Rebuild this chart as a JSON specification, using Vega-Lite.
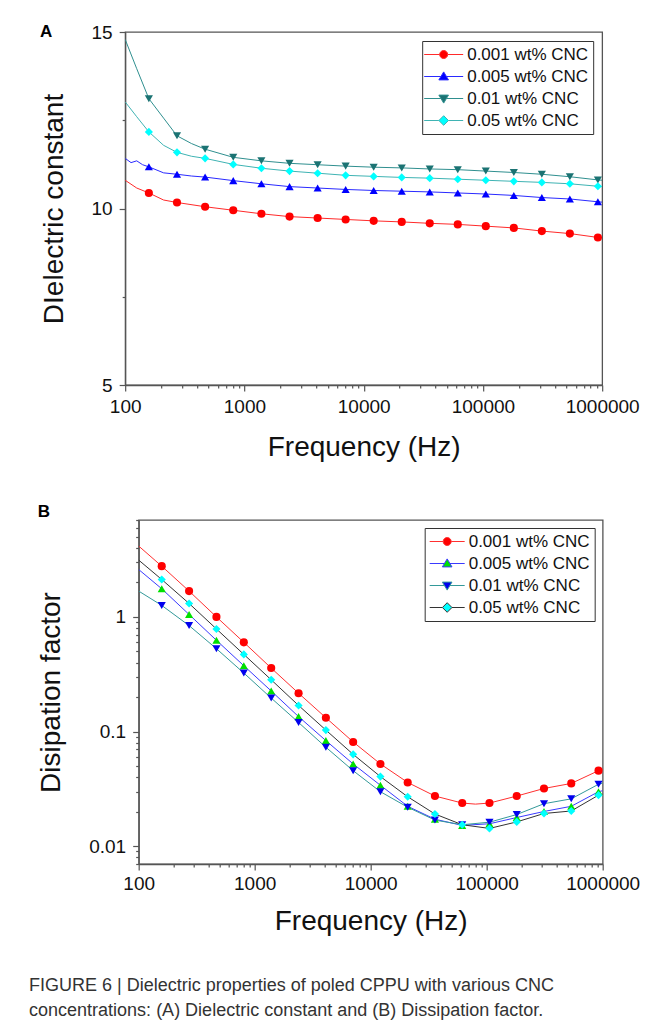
{
  "$schema": "https://vega.github.io/schema/vega-lite/v6.json",
  "background": "white",
  "padding": {"left": 29, "top": 22, "right": 5, "bottom": 5},
  "datasets": {
    "A": [
      {"f":100,"v":10.80,"s":"0.001 wt% CNC","m":0},{"f":125,"v":10.58,"s":"0.001 wt% CNC","m":0},{"f":158,"v":10.44,"s":"0.001 wt% CNC","m":1},{"f":210,"v":10.24,"s":"0.001 wt% CNC","m":0},{"f":272,"v":10.17,"s":"0.001 wt% CNC","m":1},{"f":468,"v":10.05,"s":"0.001 wt% CNC","m":1},{"f":806,"v":9.95,"s":"0.001 wt% CNC","m":1},{"f":1388,"v":9.85,"s":"0.001 wt% CNC","m":1},{"f":2390,"v":9.77,"s":"0.001 wt% CNC","m":1},{"f":4110,"v":9.73,"s":"0.001 wt% CNC","m":1},{"f":7060,"v":9.69,"s":"0.001 wt% CNC","m":1},{"f":12130,"v":9.65,"s":"0.001 wt% CNC","m":1},{"f":20850,"v":9.62,"s":"0.001 wt% CNC","m":1},{"f":35810,"v":9.58,"s":"0.001 wt% CNC","m":1},{"f":61520,"v":9.55,"s":"0.001 wt% CNC","m":1},{"f":105700,"v":9.50,"s":"0.001 wt% CNC","m":1},{"f":181600,"v":9.45,"s":"0.001 wt% CNC","m":1},{"f":311900,"v":9.36,"s":"0.001 wt% CNC","m":1},{"f":535800,"v":9.29,"s":"0.001 wt% CNC","m":1},{"f":920500,"v":9.18,"s":"0.001 wt% CNC","m":1},{"f":1000000,"v":9.17,"s":"0.001 wt% CNC","m":0},
      {"f":100,"v":11.42,"s":"0.005 wt% CNC","m":0},{"f":112,"v":11.30,"s":"0.005 wt% CNC","m":0},{"f":125,"v":11.35,"s":"0.005 wt% CNC","m":0},{"f":140,"v":11.24,"s":"0.005 wt% CNC","m":0},{"f":158,"v":11.18,"s":"0.005 wt% CNC","m":1},{"f":210,"v":11.01,"s":"0.005 wt% CNC","m":0},{"f":272,"v":10.97,"s":"0.005 wt% CNC","m":1},{"f":360,"v":10.92,"s":"0.005 wt% CNC","m":0},{"f":468,"v":10.89,"s":"0.005 wt% CNC","m":1},{"f":806,"v":10.79,"s":"0.005 wt% CNC","m":1},{"f":1388,"v":10.70,"s":"0.005 wt% CNC","m":1},{"f":2390,"v":10.62,"s":"0.005 wt% CNC","m":1},{"f":4110,"v":10.58,"s":"0.005 wt% CNC","m":1},{"f":7060,"v":10.54,"s":"0.005 wt% CNC","m":1},{"f":12130,"v":10.51,"s":"0.005 wt% CNC","m":1},{"f":20850,"v":10.49,"s":"0.005 wt% CNC","m":1},{"f":35810,"v":10.47,"s":"0.005 wt% CNC","m":1},{"f":61520,"v":10.44,"s":"0.005 wt% CNC","m":1},{"f":105700,"v":10.41,"s":"0.005 wt% CNC","m":1},{"f":181600,"v":10.37,"s":"0.005 wt% CNC","m":1},{"f":311900,"v":10.31,"s":"0.005 wt% CNC","m":1},{"f":535800,"v":10.27,"s":"0.005 wt% CNC","m":1},{"f":920500,"v":10.19,"s":"0.005 wt% CNC","m":1},{"f":1000000,"v":10.18,"s":"0.005 wt% CNC","m":0},
      {"f":100,"v":14.79,"s":"0.01 wt% CNC","m":0},{"f":125,"v":13.96,"s":"0.01 wt% CNC","m":0},{"f":158,"v":13.11,"s":"0.01 wt% CNC","m":1},{"f":210,"v":12.56,"s":"0.01 wt% CNC","m":0},{"f":272,"v":12.06,"s":"0.01 wt% CNC","m":1},{"f":360,"v":11.84,"s":"0.01 wt% CNC","m":0},{"f":468,"v":11.68,"s":"0.01 wt% CNC","m":1},{"f":806,"v":11.45,"s":"0.01 wt% CNC","m":1},{"f":1388,"v":11.35,"s":"0.01 wt% CNC","m":1},{"f":2390,"v":11.28,"s":"0.01 wt% CNC","m":1},{"f":4110,"v":11.24,"s":"0.01 wt% CNC","m":1},{"f":7060,"v":11.20,"s":"0.01 wt% CNC","m":1},{"f":12130,"v":11.17,"s":"0.01 wt% CNC","m":1},{"f":20850,"v":11.15,"s":"0.01 wt% CNC","m":1},{"f":35810,"v":11.12,"s":"0.01 wt% CNC","m":1},{"f":61520,"v":11.10,"s":"0.01 wt% CNC","m":1},{"f":105700,"v":11.06,"s":"0.01 wt% CNC","m":1},{"f":181600,"v":11.02,"s":"0.01 wt% CNC","m":1},{"f":311900,"v":10.97,"s":"0.01 wt% CNC","m":1},{"f":535800,"v":10.90,"s":"0.01 wt% CNC","m":1},{"f":920500,"v":10.81,"s":"0.01 wt% CNC","m":1},{"f":1000000,"v":10.80,"s":"0.01 wt% CNC","m":0},
      {"f":100,"v":13.02,"s":"0.05 wt% CNC","m":0},{"f":125,"v":12.60,"s":"0.05 wt% CNC","m":0},{"f":158,"v":12.17,"s":"0.05 wt% CNC","m":1},{"f":210,"v":11.79,"s":"0.05 wt% CNC","m":0},{"f":272,"v":11.59,"s":"0.05 wt% CNC","m":1},{"f":360,"v":11.48,"s":"0.05 wt% CNC","m":0},{"f":468,"v":11.42,"s":"0.05 wt% CNC","m":1},{"f":806,"v":11.25,"s":"0.05 wt% CNC","m":1},{"f":1388,"v":11.14,"s":"0.05 wt% CNC","m":1},{"f":2390,"v":11.06,"s":"0.05 wt% CNC","m":1},{"f":4110,"v":11.00,"s":"0.05 wt% CNC","m":1},{"f":7060,"v":10.94,"s":"0.05 wt% CNC","m":1},{"f":12130,"v":10.91,"s":"0.05 wt% CNC","m":1},{"f":20850,"v":10.88,"s":"0.05 wt% CNC","m":1},{"f":35810,"v":10.86,"s":"0.05 wt% CNC","m":1},{"f":61520,"v":10.83,"s":"0.05 wt% CNC","m":1},{"f":105700,"v":10.80,"s":"0.05 wt% CNC","m":1},{"f":181600,"v":10.77,"s":"0.05 wt% CNC","m":1},{"f":311900,"v":10.74,"s":"0.05 wt% CNC","m":1},{"f":535800,"v":10.70,"s":"0.05 wt% CNC","m":1},{"f":920500,"v":10.63,"s":"0.05 wt% CNC","m":1},{"f":1000000,"v":10.62,"s":"0.05 wt% CNC","m":0}
    ],
    "B": [
      {"f":100,"v":4.15,"s":"0.001 wt% CNC","m":0},{"f":158,"v":2.77,"s":"0.001 wt% CNC","m":1},{"f":272,"v":1.68,"s":"0.001 wt% CNC","m":1},{"f":468,"v":1.0,"s":"0.001 wt% CNC","m":1},{"f":806,"v":0.60,"s":"0.001 wt% CNC","m":1},{"f":1388,"v":0.358,"s":"0.001 wt% CNC","m":1},{"f":2390,"v":0.216,"s":"0.001 wt% CNC","m":1},{"f":4110,"v":0.132,"s":"0.001 wt% CNC","m":1},{"f":7060,"v":0.0812,"s":"0.001 wt% CNC","m":1},{"f":12130,"v":0.0522,"s":"0.001 wt% CNC","m":1},{"f":20850,"v":0.0360,"s":"0.001 wt% CNC","m":1},{"f":35810,"v":0.0274,"s":"0.001 wt% CNC","m":1},{"f":61520,"v":0.0238,"s":"0.001 wt% CNC","m":1},{"f":80000,"v":0.0233,"s":"0.001 wt% CNC","m":0},{"f":105700,"v":0.0238,"s":"0.001 wt% CNC","m":1},{"f":181600,"v":0.0274,"s":"0.001 wt% CNC","m":1},{"f":311900,"v":0.0319,"s":"0.001 wt% CNC","m":1},{"f":535800,"v":0.0353,"s":"0.001 wt% CNC","m":1},{"f":920500,"v":0.0456,"s":"0.001 wt% CNC","m":1},{"f":1000000,"v":0.0469,"s":"0.001 wt% CNC","m":0},
      {"f":100,"v":2.59,"s":"0.005 wt% CNC","m":0},{"f":158,"v":1.76,"s":"0.005 wt% CNC","m":1},{"f":272,"v":1.05,"s":"0.005 wt% CNC","m":1},{"f":468,"v":0.625,"s":"0.005 wt% CNC","m":1},{"f":806,"v":0.375,"s":"0.005 wt% CNC","m":1},{"f":1388,"v":0.226,"s":"0.005 wt% CNC","m":1},{"f":2390,"v":0.135,"s":"0.005 wt% CNC","m":1},{"f":4110,"v":0.0834,"s":"0.005 wt% CNC","m":1},{"f":7060,"v":0.0522,"s":"0.005 wt% CNC","m":1},{"f":12130,"v":0.0340,"s":"0.005 wt% CNC","m":1},{"f":20850,"v":0.0223,"s":"0.005 wt% CNC","m":1},{"f":35810,"v":0.0172,"s":"0.005 wt% CNC","m":1},{"f":61520,"v":0.0152,"s":"0.005 wt% CNC","m":1},{"f":105700,"v":0.0157,"s":"0.005 wt% CNC","m":1},{"f":181600,"v":0.0178,"s":"0.005 wt% CNC","m":1},{"f":311900,"v":0.0201,"s":"0.005 wt% CNC","m":1},{"f":535800,"v":0.0223,"s":"0.005 wt% CNC","m":1},{"f":920500,"v":0.0299,"s":"0.005 wt% CNC","m":1},{"f":1000000,"v":0.0305,"s":"0.005 wt% CNC","m":0},
      {"f":100,"v":1.68,"s":"0.01 wt% CNC","m":0},{"f":158,"v":1.26,"s":"0.01 wt% CNC","m":1},{"f":272,"v":0.84,"s":"0.01 wt% CNC","m":1},{"f":468,"v":0.528,"s":"0.01 wt% CNC","m":1},{"f":806,"v":0.324,"s":"0.01 wt% CNC","m":1},{"f":1388,"v":0.196,"s":"0.01 wt% CNC","m":1},{"f":2390,"v":0.120,"s":"0.01 wt% CNC","m":1},{"f":4110,"v":0.0730,"s":"0.01 wt% CNC","m":1},{"f":7060,"v":0.0456,"s":"0.01 wt% CNC","m":1},{"f":12130,"v":0.0299,"s":"0.01 wt% CNC","m":1},{"f":20850,"v":0.0219,"s":"0.01 wt% CNC","m":1},{"f":35810,"v":0.0169,"s":"0.01 wt% CNC","m":1},{"f":61520,"v":0.0154,"s":"0.01 wt% CNC","m":1},{"f":105700,"v":0.0162,"s":"0.01 wt% CNC","m":1},{"f":181600,"v":0.0189,"s":"0.01 wt% CNC","m":1},{"f":311900,"v":0.0235,"s":"0.01 wt% CNC","m":1},{"f":535800,"v":0.0259,"s":"0.01 wt% CNC","m":1},{"f":920500,"v":0.0347,"s":"0.01 wt% CNC","m":1},{"f":1000000,"v":0.0355,"s":"0.01 wt% CNC","m":0},
      {"f":100,"v":3.13,"s":"0.05 wt% CNC","m":0},{"f":158,"v":2.12,"s":"0.05 wt% CNC","m":1},{"f":272,"v":1.31,"s":"0.05 wt% CNC","m":1},{"f":468,"v":0.785,"s":"0.05 wt% CNC","m":1},{"f":806,"v":0.471,"s":"0.05 wt% CNC","m":1},{"f":1388,"v":0.283,"s":"0.05 wt% CNC","m":1},{"f":2390,"v":0.169,"s":"0.05 wt% CNC","m":1},{"f":4110,"v":0.103,"s":"0.05 wt% CNC","m":1},{"f":7060,"v":0.0633,"s":"0.05 wt% CNC","m":1},{"f":12130,"v":0.0405,"s":"0.05 wt% CNC","m":1},{"f":20850,"v":0.0270,"s":"0.05 wt% CNC","m":1},{"f":35810,"v":0.0191,"s":"0.05 wt% CNC","m":1},{"f":61520,"v":0.0154,"s":"0.05 wt% CNC","m":1},{"f":105700,"v":0.0143,"s":"0.05 wt% CNC","m":1},{"f":181600,"v":0.0163,"s":"0.05 wt% CNC","m":1},{"f":311900,"v":0.0193,"s":"0.05 wt% CNC","m":1},{"f":535800,"v":0.0203,"s":"0.05 wt% CNC","m":1},{"f":920500,"v":0.0279,"s":"0.05 wt% CNC","m":1},{"f":1000000,"v":0.0285,"s":"0.05 wt% CNC","m":0}
    ]
  },
  "title": {
    "text": ["FIGURE 6 | Dielectric properties of poled CPPU with various CNC", "concentrations: (A) Dielectric constant and (B) Dissipation factor."],
    "orient": "bottom", "anchor": "start", "frame": "bounds", "dx": -8, "offset": 41,
    "font": "Liberation Sans", "fontSize": 18, "fontWeight": "normal", "color": "#333333", "lineHeight": 25
  },
  "center": true,
  "spacing": 40,
  "vconcat": [
    {
      "width": 477, "height": 353,
      "title": {"text": "A", "anchor": "start", "frame": "bounds", "offset": -18, "font": "Liberation Sans", "fontSize": 17, "fontWeight": "bold", "color": "#000000"},
      "data": {"name": "A"},
      "encoding": {
        "x": {"field": "f", "type": "quantitative", "scale": {"type": "log", "domain": [100, 1000000], "nice": false},
          "axis": {"title": "Frequency (Hz)", "titlePadding": 17, "labelPadding": 6, "labelFlush": false, "labelOverlap": false,
            "values": [100,200,300,400,500,600,700,800,900,1000,2000,3000,4000,5000,6000,7000,8000,9000,10000,20000,30000,40000,50000,60000,70000,80000,90000,100000,200000,300000,400000,500000,600000,700000,800000,900000,1000000],
            "labelExpr": "indexof([100,1000,10000,100000,1000000], datum.value) >= 0 ? format(datum.value, 'd') : ''",
            "tickSize": {"condition": {"test": "indexof([100,1000,10000,100000,1000000], datum.value) >= 0", "value": 6}, "value": 3}}}
      },
      "layer": [
        {
          "encoding": {
            "y": {"field": "v", "type": "quantitative", "scale": {"domain": [5, 15], "nice": false, "zero": false},
              "axis": {"orient": "left", "title": "DIelectric constant", "titlePadding": 23, "labelPadding": 7,
                "values": [5, 7.5, 10, 12.5, 15],
                "labelExpr": "datum.value % 5 == 0 ? format(datum.value, 'd') : ''",
                "tickSize": {"condition": {"test": "datum.value % 5 == 0", "value": 6}, "value": 3}}}
          },
          "layer": [
            {"mark": {"type": "line", "strokeWidth": 1, "clip": true},
             "encoding": {"color": {"field": "s", "type": "nominal", "legend": null, "scale": {"range": ["#ff2a2a", "#2a2aff", "#2f8f8f", "#3fb3b3"]}}}},
            {"transform": [{"filter": "datum.m == 1 && datum.s == '0.001 wt% CNC'"}], "mark": {"type": "point", "shape": "circle", "filled": true, "color": "#ff0000", "opacity": 1, "size": 66, "strokeWidth": 0}},
            {"transform": [{"filter": "datum.m == 1 && datum.s == '0.005 wt% CNC'"}], "mark": {"type": "point", "shape": "triangle-up", "filled": true, "color": "#0000ff", "opacity": 1, "size": 66, "strokeWidth": 0}},
            {"transform": [{"filter": "datum.m == 1 && datum.s == '0.01 wt% CNC'"}], "mark": {"type": "point", "shape": "triangle-down", "filled": true, "color": "#1b7373", "opacity": 1, "size": 66, "strokeWidth": 0}},
            {"transform": [{"filter": "datum.m == 1 && datum.s == '0.05 wt% CNC'"}], "mark": {"type": "point", "shape": "diamond", "filled": true, "color": "#00ffff", "opacity": 1, "size": 66, "strokeWidth": 0}}
          ]
        },
        {
          "transform": [{"filter": "false"}],
          "mark": {"type": "point", "filled": true, "opacity": 1, "size": 64, "strokeWidth": 1},
          "encoding": {
            "y": {"field": "v", "type": "quantitative", "scale": {"domain": [5, 15], "nice": false, "zero": false},
              "axis": {"orient": "right", "title": "\u2002", "titleFontSize": 10, "titlePadding": 41, "domain": false, "ticks": false, "labels": false, "grid": false}},
            "fill": {"field": "s", "type": "nominal",
              "scale": {"domain": ["0.001 wt% CNC", "0.005 wt% CNC", "0.01 wt% CNC", "0.05 wt% CNC"], "range": ["#ff0000", "#0000ff", "#1b7373", "#00ffff"]},
              "legend": {"title": null, "orient": "top-right", "offset": 9, "padding": 5, "strokeColor": "#333333", "fillColor": "white",
                "labelFont": "Liberation Sans", "labelFontSize": 17, "labelColor": "#111111", "symbolSize": 64, "symbolOffset": 8, "labelOffset": 15, "rowPadding": 4, "symbolStrokeWidth": 1}},
            "stroke": {"field": "s", "type": "nominal",
              "scale": {"domain": ["0.001 wt% CNC", "0.005 wt% CNC", "0.01 wt% CNC", "0.05 wt% CNC"], "range": ["#ff2a2a", "#2a2aff", "#2f8f8f", "#3fb3b3"]}},
            "shape": {"field": "s", "type": "nominal",
              "scale": {"domain": ["0.001 wt% CNC", "0.005 wt% CNC", "0.01 wt% CNC", "0.05 wt% CNC"], "range": [
                "M-4.875,0L-1,0M1,0L4.875,0M1,0A1,1,0,1,1,-1,0A1,1,0,1,1,1,0Z",
                "M-4.875,0L-0.7,0M0.7,0L4.875,0M0,-1.15L1.2,0.85L-1.2,0.85Z",
                "M-4.875,0L-0.7,0M0.7,0L4.875,0M0,1.15L1.2,-0.85L-1.2,-0.85Z",
                "M-4.875,0L-1.2,0M1.2,0L4.875,0M0,-1.2L1.2,0L0,1.2L-1.2,0Z"]}}
          }
        }
      ],
      "resolve": {"scale": {"y": "independent"}}
    },
    {
      "width": 464, "height": 344,
      "title": {"text": "B", "anchor": "start", "frame": "bounds", "offset": -10, "font": "Liberation Sans", "fontSize": 17, "fontWeight": "bold", "color": "#000000"},
      "data": {"name": "B"},
      "encoding": {
        "x": {"field": "f", "type": "quantitative", "scale": {"type": "log", "domain": [100, 1000000], "nice": false},
          "axis": {"title": "Frequency (Hz)", "titlePadding": 14, "labelPadding": 4, "labelFlush": false, "labelOverlap": false,
            "values": [100,200,300,400,500,600,700,800,900,1000,2000,3000,4000,5000,6000,7000,8000,9000,10000,20000,30000,40000,50000,60000,70000,80000,90000,100000,200000,300000,400000,500000,600000,700000,800000,900000,1000000],
            "labelExpr": "indexof([100,1000,10000,100000,1000000], datum.value) >= 0 ? format(datum.value, 'd') : ''",
            "tickSize": {"condition": {"test": "indexof([100,1000,10000,100000,1000000], datum.value) >= 0", "value": 6}, "value": 3}}},
        "y": {"field": "v", "type": "quantitative", "scale": {"type": "log", "domain": [0.007, 7], "nice": false},
          "axis": {"title": "Disipation factor", "titlePadding": 23, "labelPadding": 7, "labelOverlap": false,
            "values": [0.007,0.008,0.009,0.01,0.02,0.03,0.04,0.05,0.06,0.07,0.08,0.09,0.1,0.2,0.3,0.4,0.5,0.6,0.7,0.8,0.9,1,2,3,4,5,6,7],
            "labelExpr": "indexof([0.01,0.1,1], datum.value) >= 0 ? format(datum.value, '~g') : ''",
            "tickSize": {"condition": {"test": "indexof([0.01,0.1,1], datum.value) >= 0", "value": 6}, "value": 3}}}
      },
      "layer": [
        {"mark": {"type": "line", "strokeWidth": 1, "clip": true},
         "encoding": {"color": {"field": "s", "type": "nominal", "legend": null, "scale": {"range": ["#ff3030", "#3a3aff", "#339999", "#333333"]}}}},
        {"transform": [{"filter": "datum.m == 1 && datum.s == '0.001 wt% CNC'"}], "mark": {"type": "point", "shape": "circle", "filled": true, "color": "#ff0000", "opacity": 1, "size": 66, "strokeWidth": 0}},
        {"transform": [{"filter": "datum.m == 1 && datum.s == '0.005 wt% CNC'"}], "mark": {"type": "point", "shape": "triangle-up", "filled": true, "color": "#00e000", "opacity": 1, "size": 66, "strokeWidth": 0}},
        {"transform": [{"filter": "datum.m == 1 && datum.s == '0.01 wt% CNC'"}], "mark": {"type": "point", "shape": "triangle-down", "filled": true, "color": "#0000ee", "opacity": 1, "size": 66, "strokeWidth": 0}},
        {"transform": [{"filter": "datum.m == 1 && datum.s == '0.05 wt% CNC'"}], "mark": {"type": "point", "shape": "diamond", "filled": true, "color": "#00ffff", "opacity": 1, "size": 66, "strokeWidth": 0}},
        {
          "transform": [{"filter": "false"}],
          "mark": {"type": "point", "filled": true, "opacity": 1, "size": 64, "strokeWidth": 1},
          "encoding": {
            "fill": {"field": "s", "type": "nominal",
              "scale": {"domain": ["0.001 wt% CNC", "0.005 wt% CNC", "0.01 wt% CNC", "0.05 wt% CNC"], "range": ["#ff0000", "#00e000", "#0000ee", "#00ffff"]},
              "legend": {"title": null, "orient": "top-right", "offset": 8, "padding": 5, "strokeColor": "#333333", "fillColor": "white",
                "labelFont": "Liberation Sans", "labelFontSize": 17, "labelColor": "#111111", "symbolSize": 64, "symbolOffset": 9, "labelOffset": 13, "rowPadding": 4, "symbolStrokeWidth": 1}},
            "stroke": {"field": "s", "type": "nominal",
              "scale": {"domain": ["0.001 wt% CNC", "0.005 wt% CNC", "0.01 wt% CNC", "0.05 wt% CNC"], "range": ["#ff3030", "#3a3aff", "#339999", "#333333"]}},
            "shape": {"field": "s", "type": "nominal",
              "scale": {"domain": ["0.001 wt% CNC", "0.005 wt% CNC", "0.01 wt% CNC", "0.05 wt% CNC"], "range": [
                "M-4.375,0L-1,0M1,0L4.375,0M1,0A1,1,0,1,1,-1,0A1,1,0,1,1,1,0Z",
                "M-4.375,0L-0.7,0M0.7,0L4.375,0M0,-1.15L1.2,0.85L-1.2,0.85Z",
                "M-4.375,0L-0.7,0M0.7,0L4.375,0M0,1.15L1.2,-0.85L-1.2,-0.85Z",
                "M-4.375,0L-1.2,0M1.2,0L4.375,0M0,-1.2L1.2,0L0,1.2L-1.2,0Z"]}}
          }
        }
      ]
    }
  ],
  "resolve": {
    "scale": {"x": "independent", "y": "independent", "color": "independent", "fill": "independent", "stroke": "independent", "shape": "independent"},
    "legend": {"color": "independent", "fill": "independent", "stroke": "independent", "shape": "independent"}
  },
  "config": {
    "view": {"stroke": "#555555", "strokeWidth": 1.3},
    "axis": {"labelFont": "Liberation Sans", "labelFontSize": 19, "labelColor": "#111111", "titleFont": "Liberation Sans", "titleFontSize": 28, "titleFontWeight": "normal", "titleColor": "#111111",
      "domainColor": "#555555", "domainWidth": 1.3, "tickColor": "#555555", "tickWidth": 1.2, "grid": false}
  }
}
